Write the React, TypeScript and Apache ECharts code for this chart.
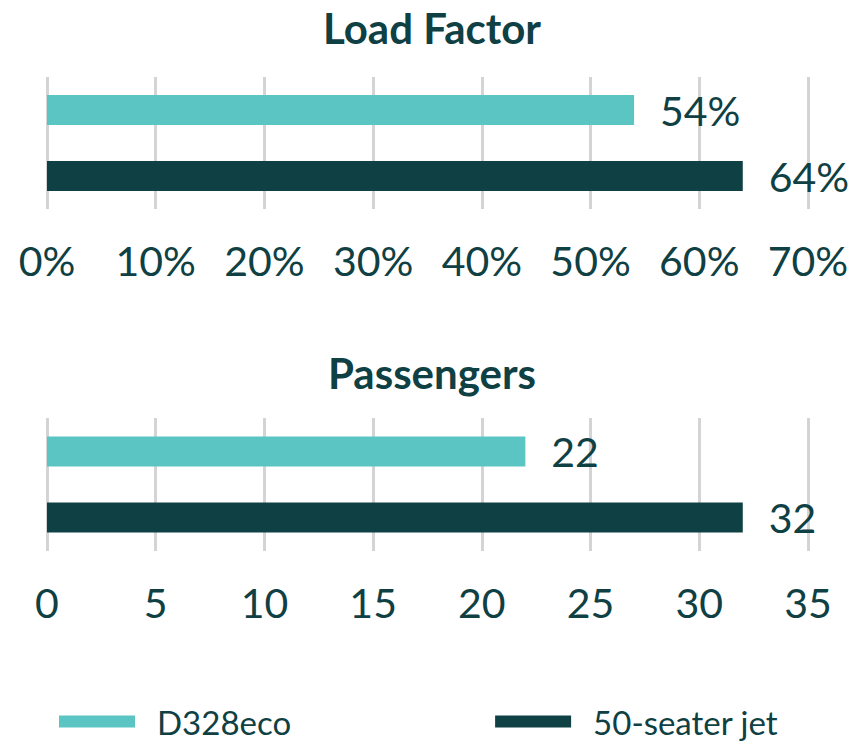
import React, { useEffect, useRef } from "react";
import * as echarts from "echarts";

const seriesNames = ["D328eco", "50-seater jet"];
const loadFactor = [54, 64];
const passengers = [22, 32];
const loadTicks = { min: 0, max: 70, interval: 10 };
const paxTicks = { min: 0, max: 35, interval: 5 };
const titles = ["Load Factor", "Passengers"];

const TEAL = "#5bc5c3";
const DARK = "#0f4043";
const FONT = "Lato";

export default function App() {
  const ref = useRef<HTMLDivElement>(null);
  useEffect(() => {
    if (!ref.current) return;
    const chart = echarts.init(ref.current, null, { renderer: "svg" });
    const colors = [TEAL, DARK];
    const axisCommon = (gridIndex: number, t: { min: number; max: number; interval: number }, pct: boolean) => ({
      type: "value",
      gridIndex,
      min: t.min,
      max: t.max,
      interval: t.interval,
      axisLine: { show: false },
      axisTick: { show: false },
      splitLine: { show: true, lineStyle: { color: "#d4d4d4", width: 3 } },
      axisLabel: {
        formatter: pct ? "{value}%" : "{value}",
        fontSize: 41,
        fontFamily: FONT,
        color: DARK,
        margin: 31,
      },
    });
    const yCommon = (gridIndex: number) => ({
      type: "category",
      gridIndex,
      data: [""],
      inverse: true,
      axisLine: { show: false },
      axisTick: { show: false },
      axisLabel: { show: false },
    });
    const mkSeries = (values: number[], idx: number, pct: boolean) =>
      values.map((v, i) => ({
        type: "bar",
        name: seriesNames[i],
        xAxisIndex: idx,
        yAxisIndex: idx,
        data: [v],
        barWidth: 30,
        barGap: "120%",
        itemStyle: { color: colors[i] },
        label: {
          show: true,
          position: "right",
          distance: 26,
          formatter: pct ? "{c}%" : "{c}",
          fontSize: 41,
          fontFamily: FONT,
          color: DARK,
        },
      }));
    chart.setOption({
      animation: false,
      title: [
        {
          text: titles[0],
          left: "center",
          top: 2,
          textStyle: { fontSize: 42, fontWeight: "bold", fontFamily: FONT, color: DARK },
        },
        {
          text: titles[1],
          left: "center",
          top: 347,
          textStyle: { fontSize: 42, fontWeight: "bold", fontFamily: FONT, color: DARK },
        },
      ],
      legend: {
        data: seriesNames,
        left: 59,
        top: 705,
        padding: 0,
        itemWidth: 76,
        itemHeight: 12,
        itemGap: 204,
        icon: "rect",
        textStyle: { fontSize: 33, fontFamily: FONT, color: DARK, padding: [0, 0, 0, 17] },
      },
      grid: [
        { left: 47, right: 56, top: 77, height: 132 },
        { left: 47, right: 56, top: 418, height: 133 },
      ],
      xAxis: [axisCommon(0, loadTicks, true), axisCommon(1, paxTicks, false)],
      yAxis: [yCommon(0), yCommon(1)],
      series: [...mkSeries(loadFactor, 0, true), ...mkSeries(passengers, 1, false)],
    });
    return () => chart.dispose();
  }, []);
  return <div ref={ref} style={{ width: 864, height: 745, position: "absolute", left: 0, top: 0 }} />;
}
